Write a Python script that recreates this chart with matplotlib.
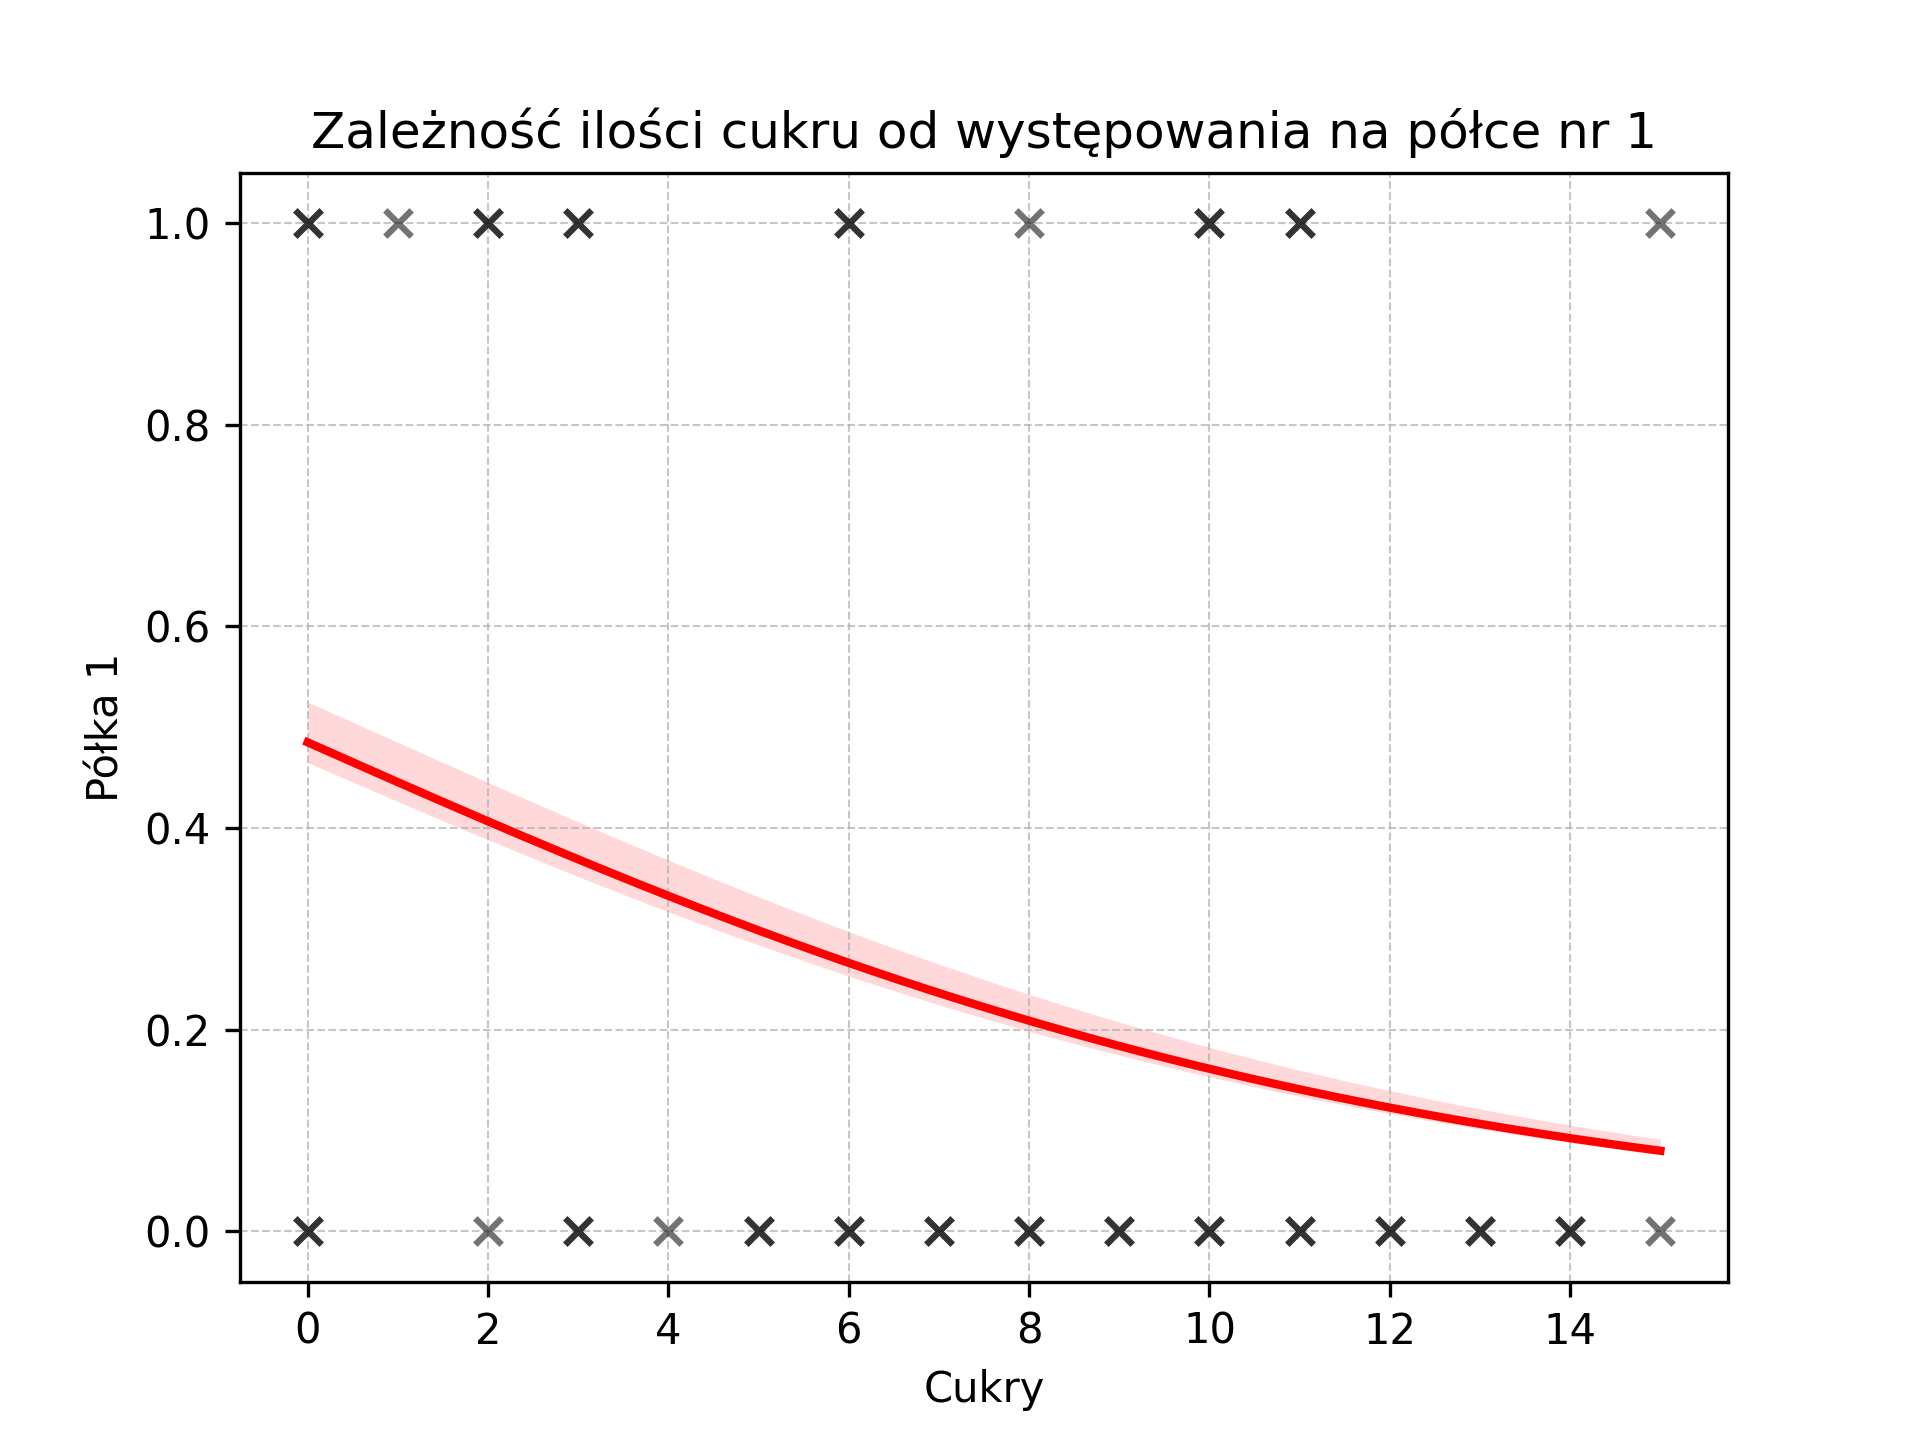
import numpy as np
import matplotlib.pyplot as plt

# observations (duplicates drawn on top of each other -> darker marks)
sugar_shelf1 = [0, 0, 1, 2, 2, 3, 3, 6, 6, 8, 10, 10, 11, 11, 15]
sugar_other = [0, 0, 2, 3, 3, 4, 5, 5, 6, 6, 7, 7, 8, 8, 9, 9, 10, 10,
               11, 11, 12, 12, 13, 13, 14, 14, 15]

# fitted logistic coefficients (intercept, slope) and band bounds
fit_coef = (-0.06, -0.159)
upper_coef = (0.1, -0.16)
lower_coef = (-0.14, -0.157)


def logistic(x, coef):
    return 1 / (1 + np.exp(-(coef[0] + coef[1] * x)))


fig, ax = plt.subplots(figsize=(6.4, 4.8), dpi=300)
ax.scatter(sugar_shelf1, [1] * len(sugar_shelf1), marker='x', color='black', alpha=0.55, s=40, linewidths=1.5, zorder=3)
ax.scatter(sugar_other, [0] * len(sugar_other), marker='x', color='black', alpha=0.55, s=40, linewidths=1.5, zorder=3)

xs = np.linspace(0, 15, 200)
ax.fill_between(xs, logistic(xs, lower_coef), logistic(xs, upper_coef), color='red', alpha=0.15, linewidth=0)
ax.plot(xs, logistic(xs, fit_coef), color='red', linewidth=2)

ax.grid(True, linestyle='--', linewidth=0.5, alpha=0.7)
ax.set_xticks(range(0, 15, 2))
ax.set_title('Zależność ilości cukru od występowania na półce nr 1')
ax.set_xlabel('Cukry')
ax.set_ylabel('Półka 1')
fig.savefig('out.png')
